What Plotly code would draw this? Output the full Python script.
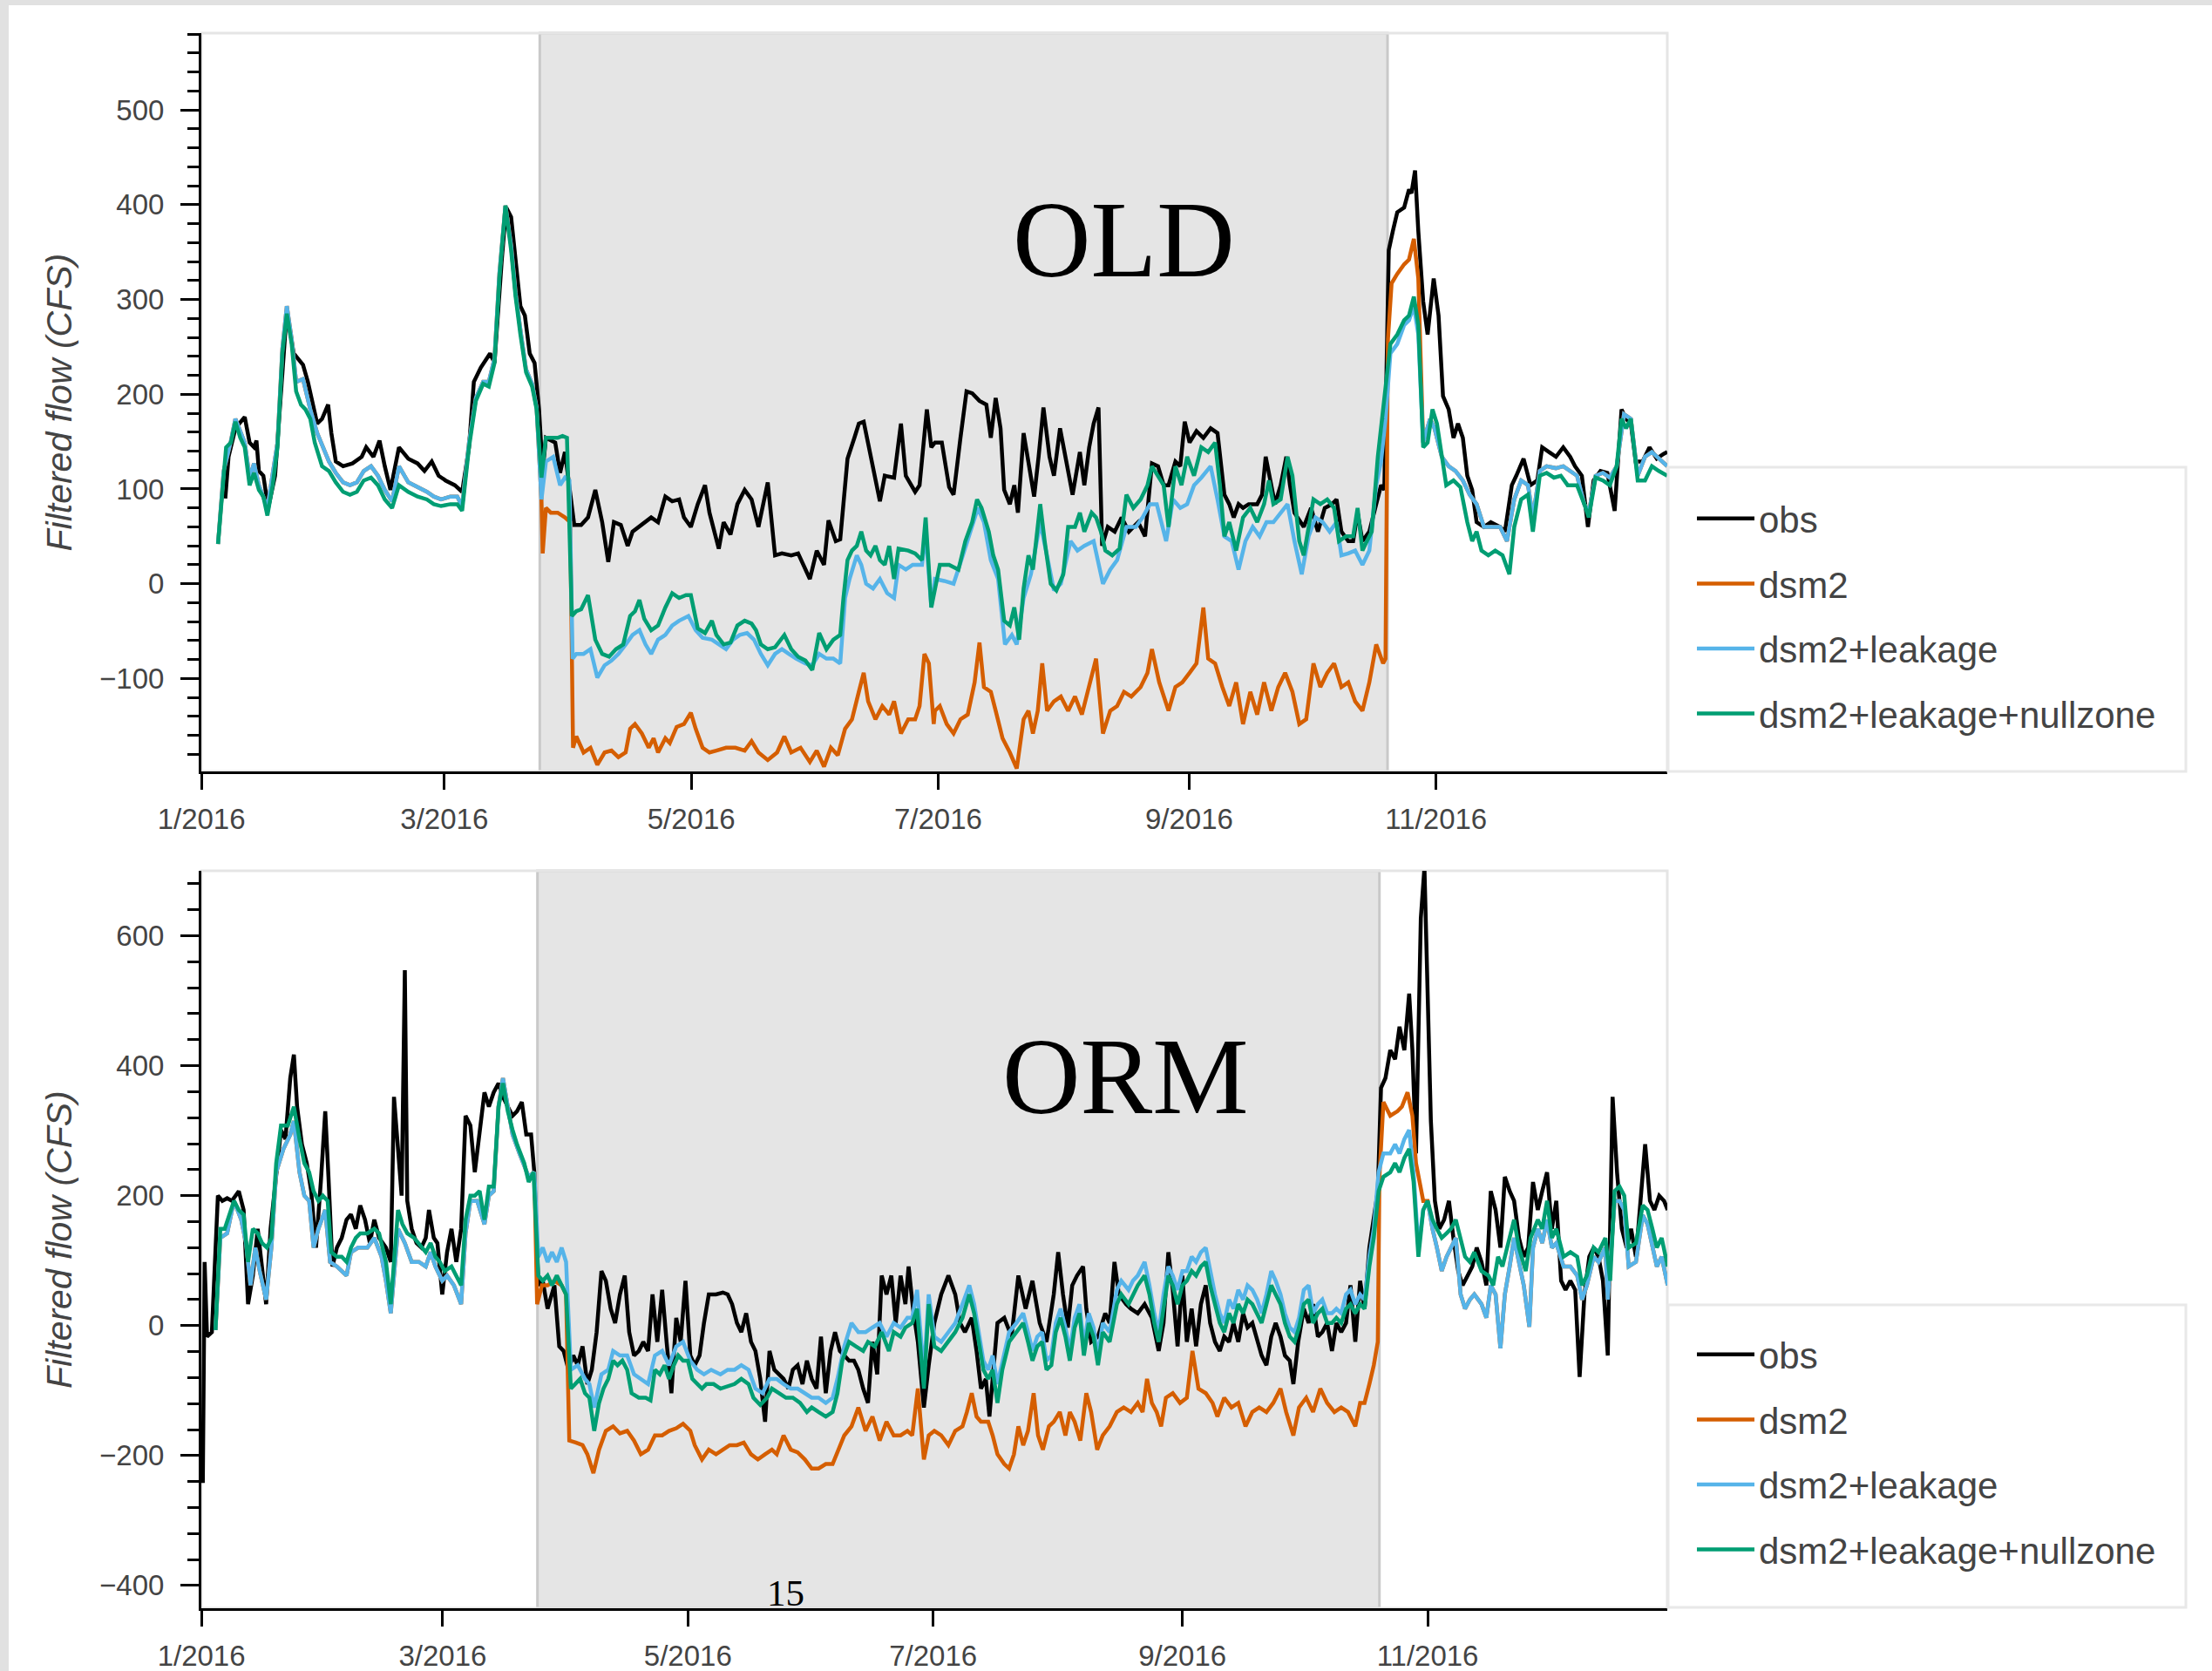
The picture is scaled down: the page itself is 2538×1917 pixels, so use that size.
import pandas as pd
import plotly.graph_objects as go

# ---------------- data (day offset from 2016-01-01, filtered flow in CFS) ----------------
SERIES_NAMES = ["obs", "dsm2", "dsm2+leakage", "dsm2+leakage+nullzone"]
SERIES_COLORS = ["#000000", "#D55E00", "#56B4E9", "#009E73"]
PANEL_LABELS = ["OLD", "ORM"]
TICK_DATES = ["2016-01-01", "2016-03-01", "2016-05-01", "2016-07-01", "2016-09-01", "2016-11-01"]
TICK_TEXT = ["1/2016", "3/2016", "5/2016", "7/2016", "9/2016", "11/2016"]
SHADE_START = "2016-03-24 14:00"
SHADE_END = "2016-10-20 00:00"
PAGE_NUMBER = "15"

OLD_OBS = [(5.9,90),(6.7,134),(8.4,164),(10.7,176),(11.9,149),(13.0,144),(13.6,151),(14.2,119),(15.3,114),(16.5,80),(18.2,114),(19.4,184),(21.1,288),(22.8,243),(25.1,231),(26.3,213),(27.5,189),(28.6,169),(29.8,174),(31.3,189),(32.1,159),(33.2,129),(35.0,124),(37.3,127),(39.6,134),(40.7,144),(42.5,134),(44.0,151),(45.3,124),(46.7,99),(48.8,144),(51.1,132),(53.4,127),(55.1,119),(56.9,129),(58.6,114),(60.3,109),(62.6,104),(64.4,97),(66.1,144),(67.3,213),(69.0,228),(71.3,243),(72.4,233),(74.2,342),(75.3,397),(76.5,387),(77.6,342),(78.8,293),(79.9,283),(81.1,243),(82.3,233),(83.4,184),(84.3,119),(85.1,154),(87.4,149),(88.6,117),(89.8,139),(90.9,104),(92.1,62),(93.8,62),(95.5,70),(97.3,99),(99.0,65),(100.5,23),(101.9,65),(103.6,62),(105.3,40),(106.5,55),(108.8,62),(111.1,70),(112.8,65),(114.6,92),(116.3,87),(118.0,89),(119.2,70),(120.9,60),(122.6,84),(124.4,104),(125.5,75),(127.8,37),(129.0,65),(130.7,52),(132.4,84),(134.2,99),(135.9,89),(137.6,60),(139.9,107),(141.7,30),(143.4,32),(145.7,30),(147.4,32),(148.6,20),(150.3,5),(152.0,35),(153.8,20),(154.9,67),(156.7,45),(157.8,47),(159.6,132),(161.3,154),(162.4,169),(163.6,171),(164.7,149),(166.5,114),(167.6,87),(168.8,114),(171.1,112),(172.8,169),(174.0,114),(176.3,97),(177.4,104),(179.2,184),(180.3,144),
(181.2,149),(182.9,149),(184.7,102),(185.8,94),(187.5,154),(189.0,203),(190.4,201),(192.2,193),(193.9,189),(195.0,154),(196.2,196),(197.4,164),(198.3,99),(199.7,84),(200.8,104),(201.7,75),(203.1,159),(204.3,129),(205.7,92),(206.8,134),(208.0,186),(209.5,134),(210.6,114),(212.1,164),(213.5,134),(215.2,94),(217.0,139),(218.1,104),(219.3,144),(220.4,169),(221.6,186),(222.5,40),(223.9,60),(225.6,55),(227.3,70),(229.1,55),(231.4,65),(233.1,50),(234.8,127),(236.3,124),(237.7,104),(238.9,104),(240.6,129),(241.8,124),(242.9,171),(244.1,149),(245.8,161),(247.5,154),(249.3,164),(251.0,159),(252.7,94),(253.9,84),(255.0,70),(256.2,84),(257.3,80),(258.7,84),(260.8,84),(262.0,94),(262.9,134),(264.0,112),(265.2,84),(266.6,104),(268.0,134),(268.9,104),(270.0,75),(272.3,60),(274.1,80),(275.8,55),(277.5,80),(279.3,84),(280.4,89),(281.6,55),(283.3,45),(284.5,45),(285.6,75),(286.8,45),(288.5,55),(290.2,84),(291.4,104),(292.2,99),(293.3,352),(294.3,372),(295.4,392),(297.1,397),(298.3,416),(298.9,412),(299.8,436),(300.6,372),(301.8,298),(302.9,263),(304.4,322),(305.6,283),(306.7,198),(308.1,184),(309.3,154),(310.4,169),(311.6,154),(312.7,114),(313.9,99),(315.0,65),(316.8,60),(318.5,65),(320.8,60),(322.0,55),(323.7,104),(324.8,114),(326.6,132),(328.3,104),(330.0,109),(331.2,144),(332.9,139),(334.6,134),(336.4,144),(338.1,134),(339.3,124),(341.0,114),(342.5,60),(343.9,109),(345.6,119),(347.3,117),(349.1,77),(350.8,184),(351.9,174),(353.1,169),(354.3,129),(356.0,129),(357.7,144),(359.5,132),(361.2,137),(362.1,139)]

OLD_LEAK = [(4.1,42),(5.5,119),(7.3,151),(8.4,174),(10.7,149),(11.9,112),(13.0,127),(14.2,104),(16.3,80),(18.8,149),(20.0,248),(21.1,293),(22.3,258),(23.4,213),(25.1,216),(26.9,184),(28.6,159),(30.1,144),(31.5,129),(33.2,117),(35.0,107),(36.7,104),(38.4,107),(40.1,119),(41.9,124),(43.6,114),(45.3,99),(47.1,87),(48.8,124),(51.1,107),(53.4,102),(55.7,97),(57.4,92),(59.2,89),(61.5,92),(63.2,92),(64.4,82),(66.1,149),(67.8,196),(69.6,213),(71.0,213),(72.4,238),(73.6,327),(75.1,399),(76.5,357),(77.6,307),(78.8,268),(80.2,226),(81.7,211),(82.8,186),(84.0,89),(85.1,129),(86.9,134),(88.6,104),(89.8,112),(90.9,109),(91.7,-79),(92.6,-74),(94.4,-74),(96.1,-69),(97.8,-99),(99.6,-86),(101.3,-81),(103.0,-74),(104.8,-64),(106.5,-54),(108.2,-49),(109.7,-64),(111.1,-74),(112.8,-59),(114.6,-54),(116.3,-44),(118.0,-39),(120.3,-34),(122.1,-49),(123.8,-57),(126.1,-59),(127.8,-64),(129.6,-69),(131.3,-59),(133.0,-54),(134.8,-52),(136.5,-59),(138.2,-74),(139.9,-86),(141.7,-74),(143.4,-69),(145.1,-74),(146.9,-79),(149.2,-84),(150.9,-86),(152.6,-74),(154.4,-79),(156.1,-79),(157.8,-84),(159.0,-15),(160.1,5),(161.9,30),(163.0,20),(164.2,0),(165.9,-5),(167.6,5),(169.4,-10),(171.1,-15),(172.2,20),(174.0,15),(175.7,20),(178.0,20),(178.9,55),(180.3,-25),
(181.2,5),(183.5,3),(185.8,0),(188.1,30),(190.4,60),(191.8,80),(193.3,65),(195.0,25),(196.8,5),(198.5,-64),(200.2,-54),(201.4,-64),(203.1,-15),(204.9,10),(207.2,65),(208.9,30),(210.6,-7),(212.3,0),(214.7,45),(216.4,35),(218.1,40),(220.4,45),(222.7,0),(224.5,15),(226.2,25),(228.5,60),(230.8,60),(232.5,70),(234.3,84),(236.0,84),(238.3,45),(240.0,89),(241.8,80),(243.5,84),(245.2,104),(247.0,112),(249.3,124),(251.0,89),(252.7,50),(254.5,45),(256.2,15),(257.9,45),(259.7,60),(261.4,50),(263.1,65),(264.8,65),(266.6,75),(268.3,84),(270.0,45),(271.8,10),(273.5,50),(275.2,70),(277.0,65),(278.7,55),(280.4,65),(281.6,30),(283.3,32),(285.0,35),(286.8,20),(288.5,35),(290.2,104),(291.4,129),(292.5,174),(293.7,243),(295.4,253),(297.1,273),(298.3,278),(299.5,293),(300.6,263),(301.8,149),(303.5,174),(304.6,164),(306.4,134),(308.1,124),(309.8,119),(311.6,109),(313.3,94),(315.0,84),(316.8,60),(318.5,60),(320.8,60),(322.5,45),(324.3,89),(326.0,109),(327.7,104),(328.9,70),(330.6,119),(332.3,124),(334.6,122),(336.4,124),(338.1,119),(339.8,114),(341.6,84),(342.7,75),(344.4,114),(346.2,117),(347.9,112),(349.6,124),(351.4,179),(353.1,174),(354.8,114),(356.6,134),(358.3,139),(360.0,132),(362.1,124)]

OLD_NULL = [(4.1,42),(5.5,114),(6.1,144),(7.3,149),(8.4,171),(9.6,154),(10.7,144),(11.9,104),(13.0,117),(14.2,99),(15.3,92),(16.3,72),(17.6,104),(18.8,144),(20.0,243),(21.1,285),(22.3,253),(23.4,203),(24.6,189),(25.7,184),(26.9,174),(28.0,149),(29.8,124),(31.5,119),(33.2,107),(35.0,97),(36.7,94),(38.4,97),(40.1,109),(41.9,112),(43.6,104),(45.3,89),(47.1,80),(48.8,104),(51.1,97),(53.4,92),(55.7,89),(57.4,84),(59.2,82),(61.5,84),(63.2,84),(64.4,77),(66.1,144),(67.8,193),(69.6,211),(71.0,208),(72.4,233),(73.6,322),(75.1,399),(76.5,352),(77.6,303),(78.8,263),(80.2,223),(81.7,208),(82.8,184),(84.0,112),(85.1,154),(86.6,154),(88.0,154),(89.2,156),(90.3,154),(91.5,-34),(92.6,-29),(93.8,-27),(95.5,-12),(97.3,-59),(99.0,-74),(100.7,-77),(102.4,-69),(104.2,-64),(105.9,-34),(107.1,-29),(108.2,-17),(109.4,-37),(111.1,-49),(112.8,-44),(114.6,-25),(116.3,-10),(118.0,-15),(119.7,-12),(120.9,-12),(122.6,-47),(124.4,-52),(126.1,-39),(127.2,-54),(129.0,-64),(130.7,-62),(132.4,-44),(134.2,-39),(135.9,-42),(137.0,-49),(138.2,-64),(139.9,-69),(141.7,-67),(144.0,-54),(145.7,-69),(147.4,-77),(149.2,-81),(150.9,-91),(152.6,-52),(154.4,-69),(156.1,-59),(157.8,-54),(158.6,-15),(159.6,25),(160.7,35),(161.9,40),(163.0,55),(164.2,35),(165.3,30),(166.5,40),(167.6,25),(168.8,20),(169.9,40),(171.1,5),(172.2,37),(174.6,35),(176.3,32),(178.0,25),(178.9,70),(180.3,-25),
(182.4,20),(184.7,20),(187.0,15),(188.7,45),(190.4,65),(191.6,89),(192.7,80),(194.5,55),(195.6,30),(196.8,15),(198.3,-39),(199.7,-44),(200.8,-25),(202.0,-59),(203.1,-5),(204.3,30),(205.4,15),(207.2,84),(208.3,45),(209.8,0),(211.2,-7),(212.9,10),(214.1,60),(215.8,60),(217.0,75),(218.1,55),(219.9,75),(221.0,70),(222.2,55),(223.3,35),(225.0,30),(226.8,37),(228.5,94),(230.2,80),(232.0,89),(233.7,104),(234.8,124),(236.3,114),(237.7,104),(238.9,60),(240.6,124),(242.1,104),(243.5,134),(245.2,114),(247.0,144),(248.7,139),(250.4,149),(251.6,104),(252.7,50),(253.9,65),(255.6,35),(257.3,70),(259.1,80),(260.8,65),(262.5,84),(263.7,109),(264.8,84),(266.6,89),(268.3,134),(269.5,114),(271.2,45),(272.3,30),(273.5,60),(274.7,89),(276.4,84),(278.1,89),(279.8,80),(281.0,45),(282.7,50),(284.5,50),(285.6,80),(286.8,35),(287.9,45),(289.1,55),(290.6,134),(291.9,184),(293.7,253),(295.4,263),(297.1,278),(298.3,283),(299.5,303),(300.6,273),(301.8,144),(302.9,149),(304.1,184),(305.2,169),(306.4,134),(307.5,104),(309.3,109),(311.0,102),(312.7,65),(313.9,45),(315.0,55),(316.2,35),(317.9,30),(319.6,35),(321.4,30),(323.1,10),(324.3,60),(326.0,89),(327.7,94),(328.9,55),(330.6,114),(332.3,117),(334.1,112),(335.8,114),(337.5,104),(339.8,104),(341.6,84),(342.7,70),(344.4,112),(346.2,109),(347.9,104),(349.6,124),(350.8,174),(351.9,164),(353.1,174),(354.8,109),(356.6,109),(358.3,124),(360.0,119),(362.1,114)]

# dsm2 inside the shaded period (outside it, the dsm2 line sits under dsm2+leakage)
OLD_DSM2_SHADE = [(84.3,32),(85.1,80),(86.3,75),(88.0,75),(89.8,70),(91.1,65),(91.8,-173),(92.6,-161),(94.4,-178),(96.1,-173),(97.8,-191),(99.6,-178),(101.3,-176),(103.0,-183),(104.8,-178),(105.9,-153),(107.1,-148),(108.8,-158),(110.5,-173),(111.7,-163),(112.8,-178),(114.6,-163),(115.7,-168),(117.4,-151),(119.2,-148),(120.9,-136),(122.1,-153),(123.8,-173),(125.5,-178),(127.2,-176),(129.6,-173),(131.9,-173),(134.2,-176),(135.9,-166),(137.6,-178),(139.9,-186),(142.2,-178),(144.0,-161),(145.7,-178),(148.0,-173),(150.3,-188),(152.0,-176),(153.8,-193),(155.5,-173),(157.2,-181),(159.0,-153),(160.7,-143),(162.4,-114),(163.6,-94),(164.7,-124),(166.5,-143),(168.2,-129),(169.9,-138),(171.1,-124),(172.8,-158),(174.6,-143),(176.3,-143),(177.4,-129),(178.6,-74),(179.7,-84),(180.9,-148),
(181.2,-134),(182.4,-129),(184.1,-148),(185.8,-158),(187.5,-143),(189.3,-138),(191.0,-104),(192.2,-62),(193.3,-109),(195.0,-114),(196.2,-134),(197.9,-163),(199.7,-178),(201.4,-195),(203.1,-143),(204.3,-134),(205.4,-158),(206.6,-134),(207.7,-84),(208.9,-134),(210.6,-124),(212.3,-119),(214.1,-134),(215.8,-119),(217.5,-138),(219.3,-109),(221.0,-79),(222.7,-158),(224.5,-134),(226.2,-129),(227.9,-114),(229.7,-119),(232.0,-109),(233.7,-94),(234.8,-69),(236.6,-104),(238.9,-134),(240.6,-109),(242.3,-104),(244.1,-94),(245.8,-84),(247.5,-25),(248.7,-79),(250.4,-84),(252.2,-109),(253.9,-129),(255.6,-104),(257.3,-148),(259.1,-114),(260.8,-138),(262.5,-104),(264.3,-134),(266.0,-109),(267.7,-94),(269.5,-114),(271.2,-148),(272.9,-143),(274.7,-84),(276.4,-109),(278.1,-94),(279.8,-84),(281.6,-109),(283.3,-104),(285.0,-124),(286.8,-134),(288.5,-104),(290.2,-64),(291.9,-84),(292.5,-79),(293.1,258),(294.0,317),(295.4,327),(297.1,337),(298.3,342),(299.5,364),(300.6,322),(301.5,184)]

ORM_OBS = [(0.35,-242),(0.8,98),(1.4,-17),(2.6,-10),(4.1,200),(5.2,192),(6.4,196),(7.6,192),(9.3,207),(10.5,178),(11.6,33),(12.8,77),(14.0,149),(15.1,91),(16.1,33),(17.2,149),(18.6,236),(19.8,301),(20.9,287),(22.1,381),(23.0,417),(23.8,337),(25.0,279),(26.2,250),(27.3,207),(28.5,120),(29.7,221),(30.8,330),(31.6,229),(32.6,91),(33.7,120),(34.9,135),(36.1,163),(37.2,171),(38.4,149),(39.5,185),(40.7,163),(41.9,127),(43.0,163),(44.2,135),(45.9,120),(47.1,98),(47.9,352),(48.9,265),(49.8,200),(50.6,547),(51.2,192),(52.3,149),(53.5,127),(54.7,120),(55.8,135),(56.6,178),(57.8,135),(58.7,127),(59.9,48),(61.1,113),(62.2,149),(63.4,98),(64.6,149),(65.7,323),(66.9,308),(68.0,236),(69.2,294),(70.4,359),(71.5,337),(72.7,359),(73.9,373),(75.0,352),(76.2,337),(77.4,323),(78.5,330),(79.7,344),(80.8,294),(82.0,294),(82.8,236),(83.8,62),(84.9,69),(86.1,26),(87.8,62),(89.0,-32),(90.1,-39),(91.3,-68),(92.5,-46),(93.6,-61),(94.8,-32),(96.0,-90),(97.1,-68),(98.3,-10),(99.5,84),(100.6,69),(101.8,26),(102.9,4),(104.1,48),(105.3,77),(106.4,-10),(107.6,-46),(108.8,-39),(109.9,-25),(111.1,-39),(112.2,48),(113.4,-25),(114.6,55),(115.7,-25),(116.9,-104),(118.1,12),(119.2,-25),(120.4,69),(121.6,-46),(122.7,-61),(123.9,-46),(125.0,4),(126.2,48),(128.0,48),(129.7,51),(130.9,48),(132.0,33),(133.2,4),(134.3,-10),(135.5,19),(136.7,-25),(137.8,-39),(139.0,-82),(140.2,-148),(141.3,-39),(142.5,-68),(143.7,-75),(144.8,-82),(146.0,-97),(147.1,-68),(148.3,-61),(149.5,-90),(150.6,-54),(151.8,-82),(153.0,-97),(154.1,-17),(155.3,-104),(156.5,-39),(157.6,-10),(158.8,-39),(159.9,-46),(161.1,-54),(162.3,-54),(163.4,-68),(164.6,-97),(165.8,-119),(166.9,-25),(168.1,-75),(169.2,77),(170.4,48),(171.6,77),(172.7,4),(173.9,77),(175.1,33),(175.9,91),(177.0,26),(178.2,-25),(179.7,-126),(180.9,-61),(182.3,4),
(184.0,48),(185.8,77),(187.5,48),(188.7,4),(189.9,-10),(191.6,12),(192.8,-39),(193.9,-97),(195.1,-82),(196.0,-140),(196.8,-82),(198.0,4),(199.7,12),(201.5,-17),(203.2,77),(205.0,26),(206.7,69),(208.5,4),(210.2,-25),(212.0,48),(213.1,113),(214.3,48),(215.5,-3),(216.6,62),(217.8,77),(219.3,91),(220.1,26),(221.3,-25),(223.0,-17),(224.8,19),(225.9,4),(227.1,98),(228.2,48),(230.0,33),(231.2,26),(232.9,19),(234.6,33),(236.4,12),(238.1,-39),(239.3,4),(240.5,113),(241.6,55),(242.8,-32),(244.0,77),(245.1,-25),(246.3,26),(247.4,-32),(248.6,33),(249.8,62),(250.9,4),(252.1,-25),(253.3,-39),(254.4,-17),(255.6,-25),(256.7,4),(257.9,-25),(259.1,19),(260.2,-3),(261.4,4),(262.6,-25),(263.7,-46),(264.9,-61),(266.1,-17),(267.2,4),(268.4,-17),(269.5,-46),(270.7,-54),(271.6,-90),(272.8,-25),(274.2,26),(275.4,4),(276.5,33),(277.7,-17),(278.8,-10),(280.0,4),(281.2,-39),(282.3,4),(283.5,-10),(284.7,4),(285.8,62),(287.0,-25),(288.2,69),(289.3,26),(290.5,120),(291.6,171),(292.6,207),(293.4,366),(294.5,381),(295.7,424),(296.9,410),(298.0,460),(299.2,424),(300.4,511),(301.2,424),(302.1,265),(303.3,627),(304.2,705),(305.0,518),(305.8,315),(306.8,192),(307.9,149),(309.1,163),(310.3,192),(311.4,135),(312.6,84),(313.7,62),(314.9,77),(316.1,91),(317.2,120),(318.4,98),(319.6,62),(320.7,207),(321.9,178),(323.1,120),(324.2,229),(325.4,207),(326.5,192),(327.7,135),(328.9,106),(330.0,120),(331.2,221),(332.4,178),(333.5,207),(334.7,236),(335.9,149),(337.0,192),(338.2,69),(339.3,55),(340.5,69),(341.7,55),(342.8,-79),(344.0,48),(345.2,106),(346.3,120),(347.5,106),(348.6,69),(349.8,-46),(351.0,352),(352.1,236),(353.3,149),(354.5,120),(355.6,149),(356.8,106),(358.0,192),(359.1,279),(360.3,192),(361.4,178),(362.6,200),(363.8,192),(364.7,178)]

ORM_LEAK = [(3.5,-7),(4.7,135),(6.4,142),(8.1,192),(9.9,163),(11.1,127),(12.2,62),(13.4,120),(14.5,84),(16.1,40),(17.4,120),(18.6,236),(20.4,272),(22.1,294),(23.0,315),(24.4,236),(25.6,200),(26.8,192),(27.9,120),(29.1,149),(30.8,178),(32.0,98),(33.7,91),(34.9,84),(36.1,77),(37.2,113),(39.0,120),(41.3,120),(43.0,135),(44.8,106),(45.9,69),(47.1,19),(48.9,149),(50.6,127),(52.3,98),(54.1,98),(55.8,91),(57.0,113),(58.2,91),(59.9,69),(61.1,77),(62.8,62),(64.6,33),(65.7,142),(66.9,192),(68.6,192),(70.4,156),(71.5,200),(72.7,207),(73.9,337),(75.0,381),(76.2,337),(77.4,294),(79.1,265),(81.4,229),(82.8,236),(83.8,106),(84.9,120),(86.1,98),(87.2,113),(88.4,98),(89.6,120),(90.7,98),(91.9,-68),(93.6,-61),(95.4,-82),(96.5,-90),(97.7,-126),(99.5,-75),(101.2,-68),(102.4,-39),(104.1,-46),(105.9,-46),(107.6,-75),(109.3,-82),(111.1,-90),(112.8,-46),(114.6,-39),(116.3,-61),(118.1,-32),(119.8,-25),(121.6,-54),(123.3,-68),(125.0,-75),(126.8,-68),(129.1,-75),(130.9,-68),(132.6,-68),(134.3,-61),(136.1,-68),(137.8,-97),(139.6,-104),(141.3,-82),(143.1,-82),(144.8,-90),(146.6,-97),(148.3,-97),(150.1,-104),(151.8,-111),(153.5,-111),(155.3,-119),(157.0,-111),(158.2,-82),(159.9,-32),(161.7,4),(163.4,-10),(165.2,-10),(166.9,-3),(168.7,4),(170.4,-17),(172.2,4),(173.9,-3),(175.6,12),(176.8,12),(178.0,55),(179.7,-75),(180.9,48),(182.3,-17),
(184.0,-25),(185.8,-10),(187.5,4),(189.3,33),(191.0,62),(192.2,33),(193.4,-10),(194.5,-54),(195.7,-68),(196.8,-46),(198.0,-90),(199.2,-54),(200.9,-10),(202.7,4),(204.4,19),(205.6,-10),(206.7,-39),(207.9,-17),(209.1,-10),(210.2,-54),(211.4,-46),(212.5,4),(213.7,26),(214.9,-3),(216.0,-39),(217.2,12),(218.4,33),(219.5,-32),(220.7,19),(221.9,-3),(223.0,-46),(224.2,4),(225.9,-10),(227.7,55),(228.8,69),(230.6,55),(231.7,69),(232.9,77),(234.6,98),(235.8,62),(237.0,19),(238.1,-10),(239.3,48),(240.5,91),(241.6,77),(242.8,55),(244.0,84),(245.1,84),(246.3,106),(247.4,98),(248.6,113),(249.8,120),(250.9,84),(252.1,48),(253.3,19),(254.4,4),(255.6,40),(256.7,26),(257.9,55),(259.1,40),(260.2,62),(261.4,55),(262.6,40),(263.7,19),(264.9,48),(266.1,84),(267.2,69),(268.4,48),(269.5,19),(270.7,-3),(271.9,-10),(273.0,12),(274.2,55),(275.4,62),(276.5,19),(277.7,33),(278.8,40),(280.0,19),(281.2,19),(282.3,26),(283.5,19),(284.7,48),(285.8,55),(287.0,33),(288.2,48),(289.3,40),(290.5,106),(291.6,149),(292.8,236),(294.0,265),(295.7,265),(296.9,279),(298.0,265),(299.2,287),(300.4,301),(301.5,236),(302.7,120),(303.9,178),(305.0,192),(306.2,149),(307.3,120),(308.5,84),(309.7,106),(310.8,120),(312.0,135),(313.2,48),(314.3,26),(315.5,40),(316.6,48),(318.4,33),(319.6,12),(320.7,62),(321.9,48),(323.1,-35),(324.2,48),(325.4,91),(326.5,135),(327.7,98),(328.9,62),(330.3,-2),(331.2,120),(332.4,149),(333.5,127),(334.7,163),(335.9,120),(337.0,127),(338.8,91),(340.5,91),(342.2,77),(343.4,40),(344.6,62),(346.3,106),(347.5,98),(349.2,120),(349.8,40),(351.5,192),(352.7,192),(353.9,178),(355.0,91),(356.8,98),(358.5,170),(359.7,156),(360.9,120),(362.0,91),(363.2,106),(364.7,62)]

ORM_NULL = [(3.5,-7),(4.7,149),(5.8,149),(7.0,171),(8.1,192),(9.3,178),(10.5,171),(11.6,98),(12.8,149),(14.0,142),(15.1,127),(16.3,120),(17.4,135),(18.6,250),(19.8,308),(21.5,308),(23.0,337),(24.4,287),(25.6,250),(26.8,236),(27.9,207),(29.1,192),(30.2,200),(31.4,192),(32.3,113),(33.7,106),(34.9,106),(36.1,98),(37.2,120),(38.4,135),(39.5,142),(41.3,142),(43.0,149),(44.2,142),(45.9,98),(47.1,33),(48.9,178),(50.0,156),(51.2,142),(52.9,135),(54.7,120),(55.8,113),(57.0,127),(58.2,106),(59.3,98),(60.5,84),(62.2,91),(63.4,77),(64.6,62),(65.7,163),(66.9,200),(68.0,200),(69.2,207),(70.4,163),(71.5,214),(72.7,214),(73.9,337),(75.0,373),(76.2,330),(77.4,301),(78.5,279),(80.3,250),(81.4,221),(82.6,236),(83.8,77),(84.9,69),(86.1,77),(87.2,62),(88.4,77),(89.6,62),(90.7,48),(91.9,-97),(93.1,-90),(94.2,-82),(95.4,-104),(96.5,-111),(97.7,-162),(98.9,-119),(100.0,-97),(101.2,-82),(102.4,-54),(103.5,-61),(104.7,-54),(105.9,-68),(107.0,-104),(108.8,-111),(110.5,-111),(111.7,-115),(112.8,-68),(114.0,-75),(115.2,-61),(116.3,-82),(117.5,-61),(118.6,-46),(119.8,-54),(121.0,-54),(122.1,-82),(123.3,-90),(124.5,-97),(125.6,-90),(127.4,-90),(129.1,-97),(130.9,-93),(132.6,-90),(134.3,-82),(136.1,-90),(137.3,-111),(139.0,-122),(140.7,-111),(141.9,-97),(143.7,-104),(145.4,-111),(147.1,-111),(148.9,-119),(150.6,-133),(151.8,-126),(153.5,-133),(155.3,-140),(157.0,-133),(158.2,-104),(159.4,-54),(161.1,-25),(162.8,-32),(164.6,-39),(165.8,-25),(167.5,-32),(169.2,-10),(171.0,-39),(172.2,-10),(173.9,-17),(175.1,-3),(176.8,4),(178.0,26),(179.7,-97),(180.9,33),(182.3,-32),
(184.0,-39),(185.8,-25),(187.5,-10),(189.3,12),(191.0,48),(192.2,19),(193.4,-25),(194.5,-68),(195.7,-82),(196.8,-68),(198.0,-119),(199.2,-68),(200.9,-25),(202.7,-10),(204.4,4),(205.6,-25),(206.7,-54),(207.9,-32),(209.1,-25),(210.2,-68),(211.4,-61),(212.5,-10),(213.7,12),(214.9,-17),(216.0,-54),(217.2,-3),(218.4,19),(219.5,-46),(220.7,4),(221.9,-17),(223.0,-61),(224.2,-10),(225.9,-25),(227.7,33),(228.8,48),(230.6,33),(231.7,48),(232.9,62),(234.6,77),(235.8,48),(237.0,4),(238.1,-25),(239.3,26),(240.5,77),(241.6,62),(242.8,33),(244.0,62),(245.1,69),(246.3,84),(247.4,77),(248.6,91),(249.8,98),(250.9,62),(252.1,33),(253.3,4),(254.4,-10),(255.6,19),(256.7,4),(257.9,33),(259.1,19),(260.2,40),(261.4,33),(262.6,19),(263.7,4),(264.9,33),(266.1,62),(267.2,48),(268.4,33),(269.5,4),(270.7,-17),(271.9,-25),(273.0,-3),(274.2,33),(275.4,40),(276.5,4),(277.7,19),(278.8,26),(280.0,4),(281.2,4),(282.3,12),(283.5,4),(284.7,26),(285.8,33),(287.0,19),(288.2,33),(289.3,26),(290.5,91),(291.6,135),(292.8,207),(294.0,229),(295.7,236),(296.9,250),(298.0,236),(299.2,258),(300.4,272),(301.5,221),(302.7,106),(303.9,178),(305.0,192),(306.2,163),(307.3,149),(308.5,135),(309.7,142),(310.8,149),(312.0,163),(313.2,135),(314.3,106),(315.5,98),(316.6,113),(318.4,84),(320.1,77),(321.3,62),(322.5,106),(323.6,91),(324.8,120),(326.5,163),(327.7,120),(329.4,84),(330.6,135),(332.4,163),(333.5,149),(334.7,192),(335.9,135),(337.0,149),(338.8,106),(340.5,113),(342.2,106),(343.4,62),(344.6,77),(346.3,120),(347.5,113),(349.2,135),(350.4,69),(351.5,207),(352.7,214),(353.9,200),(355.0,120),(356.8,127),(358.5,185),(359.7,178),(360.9,149),(362.0,120),(363.2,135),(364.7,91)]

ORM_DSM2_SHADE = [(83.5,33),(84.7,62),(86.1,62),(87.8,69),(89.6,62),(90.7,48),(91.5,-177),(93.1,-180),(94.8,-184),(96.0,-198),(97.5,-227),(98.9,-191),(100.6,-162),(102.4,-155),(104.1,-166),(105.9,-162),(107.6,-177),(109.3,-198),(111.1,-191),(112.8,-169),(114.6,-169),(116.3,-162),(118.1,-158),(119.8,-151),(121.6,-162),(122.7,-184),(124.5,-206),(126.2,-191),(128.0,-198),(129.7,-191),(131.4,-184),(133.2,-184),(134.9,-180),(136.7,-198),(138.4,-206),(140.2,-198),(141.9,-191),(143.1,-198),(144.8,-169),(146.6,-191),(148.3,-195),(150.1,-206),(151.8,-220),(153.5,-220),(155.3,-213),(157.0,-213),(158.8,-184),(159.9,-169),(161.7,-155),(163.4,-126),(165.2,-162),(166.9,-140),(168.7,-177),(170.4,-148),(172.2,-169),(173.9,-169),(175.6,-162),(176.8,-169),(178.2,-97),(179.7,-206),(180.9,-169),(182.3,-162),
(184.0,-169),(185.8,-184),(187.5,-162),(189.3,-155),(190.4,-133),(191.6,-104),(192.8,-140),(193.9,-148),(195.7,-148),(196.8,-169),(198.0,-198),(199.7,-213),(200.9,-220),(202.1,-198),(203.2,-155),(204.4,-184),(205.6,-162),(207.0,-104),(208.1,-169),(209.3,-191),(210.8,-155),(212.0,-148),(213.5,-133),(214.9,-169),(216.0,-133),(217.2,-148),(218.6,-177),(220.1,-104),(221.3,-133),(222.8,-191),(224.2,-169),(225.9,-155),(227.7,-133),(229.4,-126),(231.2,-133),(232.9,-119),(234.1,-133),(235.2,-82),(236.4,-119),(237.6,-133),(238.7,-155),(239.9,-111),(241.6,-104),(243.4,-119),(245.1,-111),(246.5,-39),(248.0,-97),(249.8,-104),(251.5,-119),(252.7,-140),(254.4,-111),(256.2,-126),(257.9,-119),(259.7,-155),(261.4,-133),(263.1,-126),(264.9,-133),(266.6,-119),(268.4,-97),(269.8,-133),(271.6,-169),(273.0,-126),(274.8,-111),(276.5,-133),(278.3,-97),(280.0,-119),(281.8,-133),(283.5,-126),(285.2,-133),(287.0,-155),(288.2,-119),(289.3,-119),(290.5,-90),(291.6,-61),(292.6,-25),(293.0,229),(294.0,344),(295.7,323),(297.5,330),(298.6,337),(300.0,359),(301.2,323),(302.1,250),(303.9,192)]

# ---------------- helpers ----------------
BASE = pd.Timestamp("2016-01-01")


def to_xy(pairs):
    xs = [BASE + pd.Timedelta(days=d) for d, _ in pairs]
    ys = [v for _, v in pairs]
    return xs, ys


def dsm2_series(leak, shade):
    first, last = shade[0][0], shade[-1][0]
    return [p for p in leak if p[0] < first] + shade + [p for p in leak if p[0] > last]


panels = [
    dict(series=[OLD_OBS, dsm2_series(OLD_LEAK, OLD_DSM2_SHADE), OLD_LEAK, OLD_NULL],
         xaxis="x", yaxis="y", legend="legend"),
    dict(series=[ORM_OBS, dsm2_series(ORM_LEAK, ORM_DSM2_SHADE), ORM_LEAK, ORM_NULL],
         xaxis="x2", yaxis="y2", legend="legend2"),
]

fig = go.Figure()
for p in panels:
    for name, color, data in zip(SERIES_NAMES, SERIES_COLORS, p["series"]):
        xs, ys = to_xy(data)
        fig.add_trace(go.Scatter(
            x=xs, y=ys, mode="lines", name=name,
            line=dict(color=color, width=4.5),
            xaxis=p["xaxis"], yaxis=p["yaxis"], legend=p["legend"],
            legendgroup=p["legend"] + name, hoverinfo="skip",
        ))

# ---------------- layout ----------------
W, H = 2538, 1917
FONT = "Liberation Sans, Arial, Helvetica, sans-serif"
SERIF = "Liberation Serif, Times New Roman, serif"
TXT = "#444444"

PLOT_L, PLOT_R = 231, 1913
TOP_T, TOP_B = 38, 885
BOT_T, BOT_B = 999, 1845
TOP_RANGE_DAYS, BOT_RANGE_DAYS = 362.1, 364.6
TOP_Y_RANGE, BOT_Y_RANGE = [-198, 581], [-435, 700]


def px_x(v):
    return v / W


def px_y(v):
    return 1 - v / H


def x_range(end_days):
    return [BASE - pd.Timedelta(hours=0.5), BASE + pd.Timedelta(days=end_days)]


def xaxis_cfg(end_days):
    return dict(
        domain=[px_x(PLOT_L), px_x(PLOT_R)],
        type="date", range=x_range(end_days),
        tickvals=TICK_DATES, ticktext=TICK_TEXT,
        ticks="outside", ticklen=18, tickwidth=3, tickcolor="black",
        showline=True, linecolor="black", linewidth=3,
        showgrid=False, zeroline=False,
        tickfont=dict(family=FONT, size=33, color=TXT),
        ticklabelstandoff=5,
    )


def xaxis_inner(end_days, over, anchor):
    # short inside part of the major ticks
    return dict(
        overlaying=over, anchor=anchor, side="bottom",
        domain=[px_x(PLOT_L), px_x(PLOT_R)],
        type="date", range=x_range(end_days),
        tickvals=TICK_DATES, ticks="inside", ticklen=8, tickwidth=3, tickcolor="black",
        showticklabels=False, showline=False, showgrid=False, zeroline=False,
    )


def yaxis_cfg(top, bottom, rng, dtick, minor):
    return dict(
        domain=[px_y(bottom), px_y(top)],
        range=rng, tick0=0, dtick=dtick,
        ticks="outside", ticklen=21, tickwidth=3, tickcolor="black",
        minor=dict(tick0=0, dtick=minor, ticks="outside", ticklen=13,
                   tickwidth=3, tickcolor="black", showgrid=False),
        showline=True, linecolor="black", linewidth=3,
        showgrid=False, zeroline=False,
        tickfont=dict(family=FONT, size=33, color=TXT),
        ticklabelstandoff=12,
    )


def yaxis_inner(top, bottom, rng, dtick, over, anchor):
    return dict(
        overlaying=over, anchor=anchor, side="left",
        domain=[px_y(bottom), px_y(top)],
        range=rng, tick0=0, dtick=dtick,
        ticks="inside", ticklen=6, tickwidth=3, tickcolor="black",
        showticklabels=False, showline=False, showgrid=False, zeroline=False,
    )


def legend_cfg(top_px):
    return dict(
        x=px_x(1942), y=px_y(top_px), xanchor="left", yanchor="top",
        bgcolor="rgba(0,0,0,0)", borderwidth=0,
        font=dict(family=FONT, size=42, color=TXT),
        tracegroupgap=17, itemwidth=66, traceorder="grouped",
    )


shapes = []
for xr, yr in [("x", "y"), ("x2", "y2")]:
    shapes.append(dict(type="rect", xref=xr, yref=yr + " domain",
                       x0=SHADE_START, x1=SHADE_END, y0=0, y1=1,
                       fillcolor="#e5e5e5", line=dict(color="#c9c9c9", width=3),
                       layer="below"))
    shapes.append(dict(type="rect", xref=xr + " domain", yref=yr + " domain",
                       x0=0, x1=1, y0=0, y1=1, fillcolor="rgba(0,0,0,0)",
                       line=dict(color="#e5e5e5", width=3), layer="below"))
# legend frames
for t, b in [(536, 885), (1497, 1844)]:
    shapes.append(dict(type="rect", xref="paper", yref="paper",
                       x0=px_x(1914), x1=px_x(2508), y0=px_y(b), y1=px_y(t),
                       line=dict(color="#e8e8e8", width=3), fillcolor="rgba(0,0,0,0)"))
# page border strips
shapes.append(dict(type="rect", xref="paper", yref="paper", x0=0, x1=px_x(10), y0=0, y1=1,
                   line=dict(width=0), fillcolor="#e1e1e1", layer="below"))
shapes.append(dict(type="rect", xref="paper", yref="paper", x0=0, x1=1, y0=px_y(6), y1=1,
                   line=dict(width=0), fillcolor="#e1e1e1", layer="below"))

annotations = [
    dict(text=PANEL_LABELS[0], x=px_x(1289), y=px_y(276), xref="paper", yref="paper",
         showarrow=False, xanchor="center", yanchor="middle",
         font=dict(family=SERIF, size=124, color="black")),
    dict(text=PANEL_LABELS[1], x=px_x(1291), y=px_y(1235), xref="paper", yref="paper",
         showarrow=False, xanchor="center", yanchor="middle",
         font=dict(family=SERIF, size=124, color="black")),
    dict(text=PAGE_NUMBER, x=px_x(901), y=px_y(1827), xref="paper", yref="paper",
         showarrow=False, xanchor="center", yanchor="middle",
         font=dict(family=SERIF, size=43, color="black")),
]
for cy in [(TOP_T + TOP_B) / 2, (BOT_T + BOT_B) / 2]:
    annotations.append(dict(text="Filtered flow (CFS)", x=px_x(68), y=px_y(cy),
                            xref="paper", yref="paper", showarrow=False, textangle=-90,
                            xanchor="center", yanchor="middle",
                            font=dict(family=FONT, size=41, color=TXT, style="italic")))

fig.update_layout(
    width=W, height=H, margin=dict(l=0, r=0, t=0, b=0, autoexpand=False),
    paper_bgcolor="white", plot_bgcolor="white",
    showlegend=True,
    xaxis=dict(anchor="y", **xaxis_cfg(TOP_RANGE_DAYS)),
    yaxis=dict(anchor="x", **yaxis_cfg(TOP_T, TOP_B, TOP_Y_RANGE, 100, 20)),
    xaxis2=dict(anchor="y2", **xaxis_cfg(BOT_RANGE_DAYS)),
    yaxis2=dict(anchor="x2", **yaxis_cfg(BOT_T, BOT_B, BOT_Y_RANGE, 200, 40)),
    xaxis3=xaxis_inner(TOP_RANGE_DAYS, "x", "y"),
    yaxis3=yaxis_inner(TOP_T, TOP_B, TOP_Y_RANGE, 100, "y", "x"),
    xaxis4=xaxis_inner(BOT_RANGE_DAYS, "x2", "y2"),
    yaxis4=yaxis_inner(BOT_T, BOT_B, BOT_Y_RANGE, 200, "y2", "x2"),
    legend=legend_cfg(561),
    legend2=legend_cfg(1520),
    shapes=shapes,
    annotations=annotations,
)

fig.write_html(
    "out.html",
    config={"displayModeBar": False},
    post_script="document.body.style.margin='0px';document.body.style.overflow='hidden';",
)
